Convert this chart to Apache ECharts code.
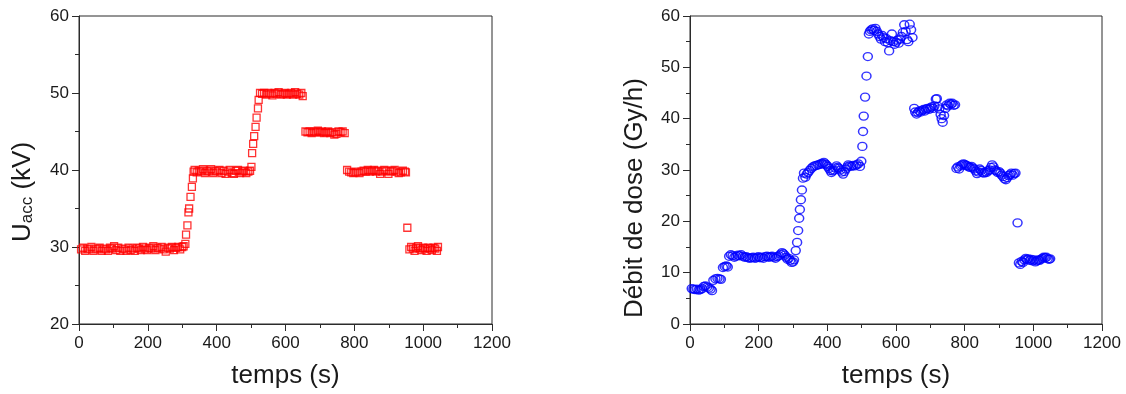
<!DOCTYPE html>
<html>
<head>
<meta charset="utf-8">
<script src="https://cdn.jsdelivr.net/npm/echarts@6/dist/echarts.min.js"></script>
<style>
  html, body { margin: 0; padding: 0; background: #fff; }
  #chart { width: 1126px; height: 394px; }
</style>
</head>
<body>
<div id="chart"></div>
<script>
// ---- Data ----
const xTicks = [0, 200, 400, 600, 800, 1000, 1200];

// Left panel: accelerating voltage U_acc (kV) vs time (s)
const uaccTime = [
  6, 12, 18, 24, 30, 36, 42, 48, 54, 60, 66, 72, 78, 84, 90, 96, 102, 108, 114, 120,
  126, 132, 138, 144, 150, 156, 162, 168, 174, 180, 186, 192, 198, 204, 210, 216, 222, 228, 234, 240,
  246, 252, 258, 264, 270, 276, 282, 288, 294, 300, 304,
  309, 311, 315, 318, 320, 324, 328, 331, 333,
  336, 342, 348, 354, 360, 366, 372, 378, 384, 390, 396, 402, 408, 414, 420, 426, 432, 438, 444, 450,
  456, 462, 468, 474, 480, 486, 492, 497,
  501, 503, 506, 509, 513, 516, 520, 522,
  526, 532, 538, 544, 550, 556, 562, 568, 574, 580, 586, 592, 598, 604, 610, 616, 622, 628, 634, 640, 646, 650,
  658, 664, 670, 676, 682, 688, 694, 700, 706, 712, 718, 724, 730, 736, 742, 748, 754, 760, 766, 772,
  779, 785, 791, 797, 803, 809, 815, 821, 827, 833, 839, 845, 851, 857, 863, 869, 875, 881, 887, 893,
  899, 905, 911, 917, 923, 929, 935, 941, 947, 950,
  954,
  960, 965, 970, 975, 980, 985, 990, 995, 1000, 1005, 1010, 1015, 1020, 1025, 1030, 1035, 1040, 1043
];
const uaccValue = [
  29.7, 29.9, 29.5, 29.8, 29.7, 30.0, 29.5, 29.8, 29.7, 29.9, 29.5, 29.8, 29.7, 29.5, 29.9, 29.8, 30.1, 29.6, 29.9, 29.5,
  29.8, 29.7, 29.5, 29.9, 29.6, 29.8, 29.5, 29.9, 29.8, 29.6, 30.0, 29.8, 29.6, 29.9, 29.8, 30.1, 29.6, 29.9, 29.8, 30.0,
  29.7, 29.4, 29.9, 29.8, 30.0, 29.6, 29.9, 30.0, 29.7, 30.0, 30.1,
  30.4, 31.6, 32.8, 34.5, 35.0, 36.5, 37.8, 38.9, 39.8,
  40.0, 39.7, 39.9, 39.8, 40.1, 39.6, 39.9, 39.8, 40.1, 39.6, 39.9, 39.8, 40.0, 39.6, 39.9, 39.5, 39.8, 40.0, 39.6, 39.5,
  39.9, 40.0, 39.6, 39.8, 39.9, 39.6, 39.8, 39.9,
  40.4, 42.2, 43.4, 44.4, 45.6, 46.8, 48.0, 49.1,
  50.0, 49.9, 50.0, 49.8, 50.0, 49.9, 49.7, 50.0, 49.9, 50.1, 49.8, 49.9, 50.0, 49.8, 49.9, 50.0, 49.8, 50.1, 49.9, 49.8, 50.0, 49.6,
  45.0, 44.9, 45.0, 44.8, 45.0, 44.9, 45.1, 44.9, 45.0, 44.8, 44.9, 45.0, 44.8, 44.9, 44.6, 44.7, 45.0, 44.9, 45.0, 44.8,
  40.0, 39.8, 39.7, 39.6, 39.7, 39.8, 39.6, 39.8, 39.9, 39.8, 40.0, 39.8, 39.9, 40.0, 39.8, 39.9, 39.5, 39.8, 40.0, 39.9,
  39.5, 39.8, 39.9, 40.0, 39.8, 39.6, 39.7, 39.9, 39.8, 39.7,
  32.5,
  29.7, 30.0, 29.8, 29.5, 29.9, 30.1, 29.8, 29.6, 29.9, 29.8, 29.5, 29.9, 29.8, 29.6, 29.9, 29.8, 29.5, 30.0
];

// Right panel: dose rate (Gy/h) vs time (s)
const doseTime = [
  5, 10, 15, 20, 25, 30, 35, 40, 45, 50, 55, 60, 64,
  68, 74, 80, 86, 90,
  96, 101, 106, 110,
  114, 119, 124, 129, 134, 139, 144, 149, 154, 159, 164, 169, 174, 179, 184, 189, 194, 199, 204, 209,
  214, 219, 224, 229, 234, 239, 244, 249, 254, 259, 264, 268, 272, 276, 280, 284, 288, 292, 296, 300, 303,
  308, 312, 315, 318, 320, 323, 326, 329,
  332, 336, 340, 344, 348, 353, 358, 363, 368, 373, 378, 383, 387, 390, 394, 397, 401, 405, 409, 412,
  416, 419, 423, 427, 431, 434, 438, 442, 446, 450, 454, 458, 461, 465, 470, 475, 480, 485, 490, 495, 499,
  502, 504, 506, 510, 514, 518, 521,
  524, 528, 532, 536, 540, 544, 548, 552, 556, 560, 564, 568, 572, 576, 580, 584, 588, 592, 596, 600,
  604, 608, 612, 616, 620, 624, 628, 632, 636, 640, 644, 648,
  653, 656, 660, 664, 668, 672, 676, 680, 684, 688, 692, 696, 700, 704, 708, 712, 716, 719, 722, 726,
  730, 733, 736, 740, 744, 748, 752, 756, 760, 764, 768, 772,
  776, 780, 784, 788, 792, 796, 800, 804, 808, 812, 816, 820, 824, 828, 832, 836, 840, 844, 848, 852,
  856, 860, 864, 868, 872, 876, 880, 884, 888, 892, 896, 900, 904, 908, 912, 916, 920, 924, 928, 932,
  936, 940, 944, 948,
  954,
  958, 962, 966, 970, 974, 978, 982, 986, 990, 994, 998, 1002, 1006, 1010, 1014, 1018, 1022, 1026, 1030, 1034,
  1038, 1042, 1046, 1049
];
const doseValue = [
  6.9, 6.8, 6.7, 6.8, 6.6, 6.7, 6.9, 7.3, 7.4, 7.2, 7.0, 6.8, 6.5,
  8.5, 8.8, 8.9, 8.8, 8.7,
  11.0, 11.2, 11.3, 11.1,
  13.2, 13.5, 13.3, 13.0, 13.2, 13.4, 13.3, 13.5, 13.2, 13.0, 13.1, 12.9, 12.8, 12.9, 13.0, 12.8, 12.9, 13.1, 12.9, 13.0,
  12.8, 13.1, 13.2, 13.0, 13.1, 13.2, 13.0, 12.8, 13.1, 13.3, 13.6, 13.9, 13.7, 13.4, 13.0, 12.6, 12.8, 12.4, 12.0, 12.1, 12.5,
  14.3, 15.9, 18.2, 20.6, 22.3, 24.2, 26.1, 28.4,
  29.4, 28.6, 29.2, 29.5, 29.9, 30.3, 30.6, 30.8, 30.9, 31.0, 31.1, 31.3, 31.2, 31.5, 31.2, 31.0, 30.7, 30.3, 29.9, 29.5,
  29.8, 30.0, 30.4, 30.8, 30.5, 30.3, 30.0, 29.6, 29.2, 29.7, 30.2, 30.6, 31.0, 30.8, 30.7, 30.9, 30.8, 31.0, 31.2, 30.7, 31.7,
  34.6, 37.5, 40.5, 44.2, 48.3, 52.1, 56.5,
  57.0, 57.3, 57.5, 57.2, 57.6, 57.0, 56.5, 56.0, 55.5, 56.2, 55.8, 55.0, 55.6, 54.8, 53.2, 55.2, 56.5, 55.0, 54.5, 54.9,
  55.3, 54.7, 55.5, 56.0, 56.8, 58.3, 57.0, 55.4, 55.0, 58.4, 57.3, 55.8,
  42.0, 41.3, 40.9, 41.2, 41.5, 41.3, 41.6, 41.8, 41.5, 41.9, 42.0, 41.8, 42.1, 42.3, 42.0, 42.5, 43.8, 43.9, 42.4, 41.9,
  40.8, 40.0, 39.3, 40.6, 42.0, 42.7, 42.5, 43.0, 42.8, 43.0, 42.6, 42.7,
  30.3, 30.6, 30.2, 30.8, 31.0, 31.2, 31.1, 30.9, 30.8, 30.6, 30.5, 30.7, 30.4, 30.2, 29.8, 29.3, 29.6, 30.2, 29.9, 29.5,
  29.4, 29.6, 29.5, 29.8, 30.0, 30.5, 31.0, 30.6, 30.0, 29.8, 29.5, 29.7, 29.4, 29.0, 28.7, 28.3, 28.1, 28.5, 28.9, 29.1,
  29.4, 29.0, 29.3, 29.4,
  19.7,
  11.9, 11.6, 12.2, 12.0, 12.5, 12.8, 12.6, 12.7, 12.4, 12.6, 12.3, 12.5, 12.1, 12.3, 12.5, 12.4, 12.6, 12.8, 13.0, 12.9,
  13.0, 12.7, 12.6, 12.7
];

// ---- Chart ----
const FONT = 'Liberation Sans, Arial, sans-serif';
const TXT = '#1a1a1a';
const LINE = '#2b2b2b';

function xAxisDef(gridIndex) {
  return {
    gridIndex, type: 'value', min: xTicks[0], max: xTicks[xTicks.length - 1], interval: 200,
    name: 'temps (s)', nameLocation: 'middle', nameGap: 39,
    nameTextStyle: { fontSize: 26, fontFamily: FONT, color: TXT },
    axisLine: { show: true, lineStyle: { color: LINE, width: 1 } },
    axisTick: { show: true, inside: false, length: 7, lineStyle: { color: LINE } },
    minorTick: { show: true, splitNumber: 2, length: 4, lineStyle: { color: LINE } },
    splitLine: { show: false },
    axisLabel: { fontSize: 17, fontFamily: FONT, color: TXT, margin: 11, formatter: v => String(v) }
  };
}
function yAxisDef(gridIndex, min, name, rich, gap, pad) {
  return {
    gridIndex, type: 'value', min, max: 60, interval: 10,
    name, nameLocation: 'middle', nameGap: gap, nameRotate: 90,
    nameTextStyle: { fontSize: 26, fontFamily: FONT, color: TXT, rich, padding: pad },
    axisLine: { show: true, lineStyle: { color: LINE, width: 1 } },
    axisTick: { show: true, inside: false, length: 7, lineStyle: { color: LINE } },
    minorTick: { show: true, splitNumber: 2, length: 4, lineStyle: { color: LINE } },
    splitLine: { show: false },
    axisLabel: { fontSize: 17, fontFamily: FONT, color: TXT, margin: 10, formatter: v => String(v) }
  };
}

const chart = echarts.init(document.getElementById('chart'), null, { renderer: 'canvas' });
chart.setOption({
  animation: false,
  backgroundColor: '#ffffff',
  grid: [
    { left: 79, top: 16, width: 413, height: 308, show: true, borderColor: LINE, borderWidth: 1, backgroundColor: 'transparent' },
    { left: 690, top: 16, width: 412, height: 308, show: true, borderColor: LINE, borderWidth: 1, backgroundColor: 'transparent' }
  ],
  xAxis: [xAxisDef(0), xAxisDef(1)],
  yAxis: [
    yAxisDef(0, 20, '{a|U}{b|acc}{a| (kV)}', {
      a: { fontSize: 26, fontFamily: FONT, color: TXT, verticalAlign: 'bottom', lineHeight: 32 },
      b: { fontSize: 17, fontFamily: FONT, color: TXT, verticalAlign: 'bottom', lineHeight: 32 }
    }, 43, [0, 44, 0, 0]),
    yAxisDef(1, 0, 'Débit de dose (Gy/h)', undefined, 42, [0, 56, 0, 0])
  ],
  series: [
    {
      type: 'scatter', xAxisIndex: 0, yAxisIndex: 0,
      data: uaccTime.map((t, i) => [t, uaccValue[i]]),
      symbol: 'rect', symbolSize: 7,
      itemStyle: { color: 'rgba(0,0,0,0)', borderColor: '#ff0000', borderWidth: 1.3 },
      clip: false
    },
    {
      type: 'scatter', xAxisIndex: 1, yAxisIndex: 1,
      data: doseTime.map((t, i) => [t, doseValue[i]]),
      symbol: 'circle', symbolSize: [9, 8],
      itemStyle: { color: 'rgba(0,0,0,0)', borderColor: '#0000ff', borderWidth: 1.4 },
      clip: false
    }
  ]
});
</script>
</body>
</html>
